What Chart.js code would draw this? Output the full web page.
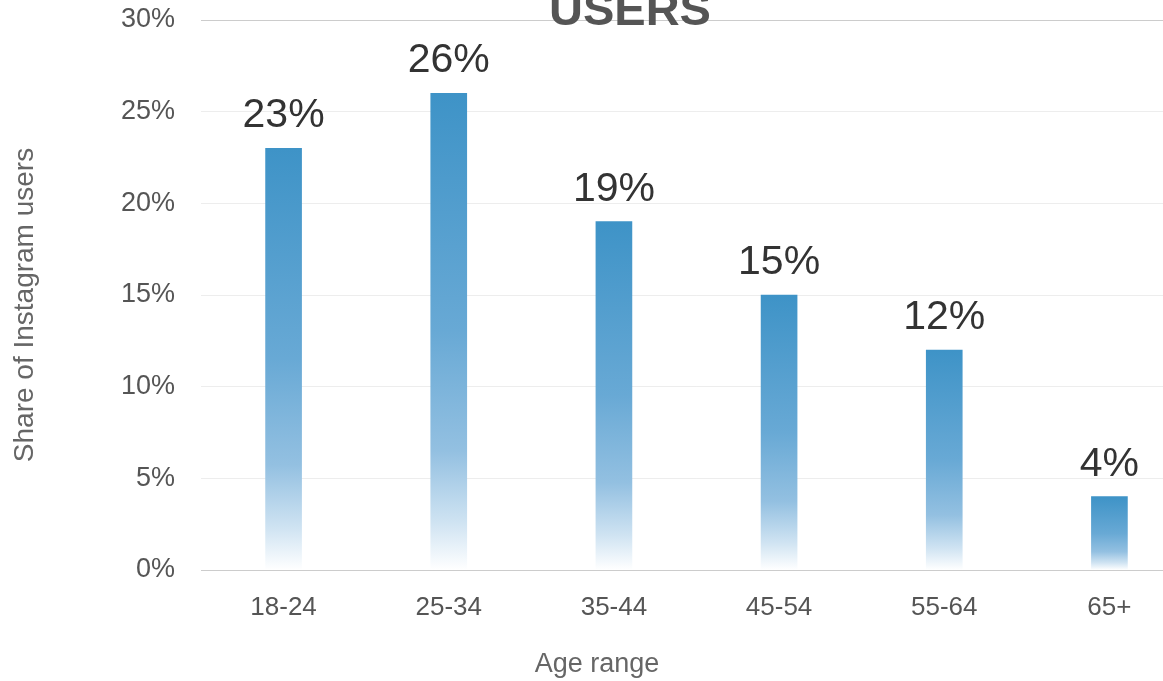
<!DOCTYPE html>
<html>
<head>
<meta charset="utf-8">
<script src="https://cdn.jsdelivr.net/npm/chart.js@4.4.1/dist/chart.umd.min.js"></script>
<style>
  html, body { margin: 0; padding: 0; background: #fff; overflow: hidden; }
  #wrap { position: absolute; left: 0; top: 0; width: 1192px; height: 681px; }
</style>
</head>
<body>
<div id="wrap"><canvas id="chart"></canvas></div>
<script>
// Data
const ageRanges = ['18-24', '25-34', '35-44', '45-54', '55-64', '65+'];
const shareOfUsers = [23, 26, 19, 15, 12, 4];
const yTicks = [0, 5, 10, 15, 20, 25, 30];

const FONT = "'Liberation Sans', Arial, sans-serif";

// each bar fades from blue at its top to white at its base
const barGradient = (ctx) => {
  const chart = ctx.chart;
  const y = chart.scales.y;
  if (!y || !ctx.parsed) return '#3e93c7';
  const top = y.getPixelForValue(ctx.parsed.y);
  const base = y.getPixelForValue(0);
  if (!isFinite(top) || !isFinite(base) || top === base) return '#3e93c7';
  const g = chart.ctx.createLinearGradient(0, top, 0, base);
  g.addColorStop(0, '#3e93c7');
  g.addColorStop(0.5, '#68a9d5');
  g.addColorStop(0.75, '#93c0e1');
  g.addColorStop(0.9, '#cfe3f2');
  g.addColorStop(1, '#ffffff');
  return g;
};

const valueLabels = {
  id: 'valueLabels',
  afterDatasetsDraw(chart) {
    const c = chart.ctx;
    const meta = chart.getDatasetMeta(0);
    c.save();
    c.font = '41px ' + FONT;
    c.fillStyle = '#333';
    c.textAlign = 'center';
    c.textBaseline = 'alphabetic';
    meta.data.forEach((bar, i) => {
      c.fillText(shareOfUsers[i] + '%', bar.x, bar.y - 21);
    });
    c.restore();
  }
};

// cut-off heading and the axis titles (placed as in the original, not centred on the plot)
const extraText = {
  id: 'extraText',
  afterDraw(chart) {
    const c = chart.ctx;
    c.save();
    c.textAlign = 'center';
    c.font = 'bold 47px ' + FONT;
    c.fillStyle = '#555';
    c.fillText('USERS', 630, 25);
    c.font = '27px ' + FONT;
    c.fillStyle = '#666';
    c.textBaseline = 'middle';
    c.fillText('Age range', 597, 665);
    c.translate(25, 305);
    c.rotate(-Math.PI / 2);
    c.font = '28px ' + FONT;
    c.fillText('Share of Instagram users', 0, 0);
    c.restore();
  }
};

new Chart(document.getElementById('chart'), {
  type: 'bar',
  data: {
    labels: ageRanges,
    datasets: [{
      data: shareOfUsers,
      backgroundColor: barGradient,
      barThickness: 36,
      borderWidth: 0
    }]
  },
  options: {
    responsive: true,
    maintainAspectRatio: false,
    animation: false,
    layout: { padding: { top: 20, left: 0, right: 0, bottom: 0 } },
    plugins: { legend: { display: false }, tooltip: { enabled: false } },
    scales: {
      x: {
        grid: { display: false },
        border: { display: true, color: '#cccccc', width: 1 },
        ticks: { color: '#555', font: { family: FONT, size: 26 }, padding: 14 },
        afterFit: (scale) => { scale.height = 111; }
      },
      y: {
        min: 0,
        max: 30,
        z: 1,
        afterBuildTicks: (scale) => { scale.ticks = yTicks.map(v => ({ value: v })); },
        grid: {
          drawTicks: false,
          color: (ctx) => ctx.tick && ctx.tick.value === 30 ? '#cccccc' : 'rgba(0,0,0,0.07)'
        },
        border: { display: false },
        ticks: {
          color: '#555', font: { family: FONT, size: 27 }, padding: 26,
          callback: (v) => v + '%'
        },
        afterFit: (scale) => {
          scale.width = 201;
          scale.paddingTop = 0;
          scale.paddingBottom = 0;
        }
      }
    }
  },
  plugins: [valueLabels, extraText]
});
</script>
</body>
</html>
